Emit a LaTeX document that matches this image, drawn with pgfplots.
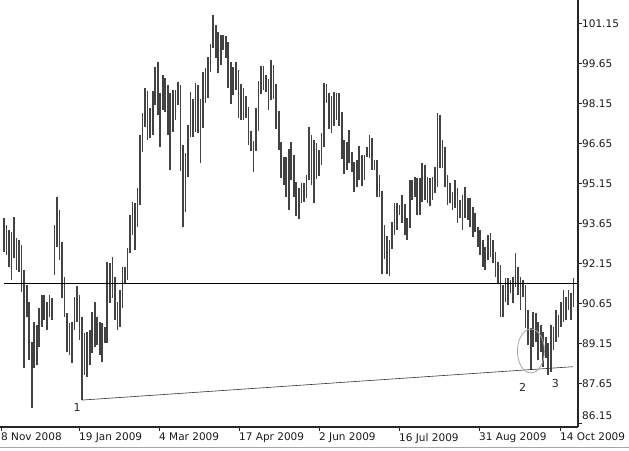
\documentclass[border=0pt]{standalone}
\usepackage{fontspec}
\setmainfont{DejaVu Sans}
\usepackage{pgfplots}
\usepackage{pgfplotstable}
\pgfplotsset{compat=1.18}

\pgfplotstableread{
i hi lo
0 93.85 92.57
1 93.59 92.46
2 93.40 92.01
3 93.32 91.52
4 93.89 92.35
5 93.10 91.90
6 93.02 91.82
7 92.84 91.07
8 91.90 88.22
9 91.34 90.14
10 90.70 88.52
11 89.20 86.72
12 89.95 88.22
13 89.84 88.34
14 90.47 89.01
15 90.96 89.76
16 90.96 90.02
17 90.70 89.65
18 90.96 90.14
19 90.85 90.02
20 93.59 91.71
21 94.64 92.76
22 94.15 92.27
23 92.95 90.85
24 91.64 90.14
25 90.29 88.82
26 89.91 88.71
27 89.95 88.41
28 90.89 89.65
29 91.30 89.95
30 90.96 89.27
31 90.14 87.02
32 89.54 87.96
33 89.57 87.89
34 89.65 88.34
35 90.32 88.79
36 90.70 89.01
37 90.14 89.09
38 89.95 88.71
39 89.91 88.45
40 89.76 89.16
41 92.20 89.16
42 92.16 90.66
43 92.39 90.85
44 91.64 90.02
45 90.70 89.65
46 91.15 89.76
47 92.01 90.47
48 92.01 91.41
49 92.72 91.52
50 93.96 92.54
51 94.45 93.21
52 94.41 92.65
53 94.97 93.51
54 96.96 94.34
55 97.79 96.32
56 98.72 97.26
57 98.61 96.77
58 97.97 96.85
59 98.61 96.96
60 99.51 98.09
61 99.70 97.71
62 98.54 96.51
63 99.21 97.90
64 99.10 97.82
65 98.84 96.96
66 98.54 95.65
67 98.65 97.07
68 98.65 97.52
69 98.95 98.09
70 98.84 95.61
71 96.59 93.51
72 96.29 94.07
73 97.34 95.39
74 98.57 96.89
75 98.31 96.89
76 98.91 97.07
77 98.84 97.04
78 98.31 95.91
79 99.32 97.22
80 99.47 98.16
81 99.89 98.35
82 100.37 99.32
83 101.46 100.22
84 101.09 99.85
85 100.82 99.29
86 100.71 99.59
87 100.71 100.15
88 100.67 99.85
89 100.45 98.72
90 99.70 98.12
91 99.51 98.46
92 99.70 98.65
93 99.40 97.60
94 98.87 97.52
95 98.72 97.52
96 98.42 97.60
97 98.01 96.59
98 97.11 96.36
99 96.73 95.57
100 97.97 96.36
101 98.98 97.11
102 99.55 98.50
103 99.55 98.65
104 99.21 98.57
105 99.06 97.90
106 99.77 98.27
107 99.59 98.31
108 98.87 97.19
109 97.86 96.40
110 96.70 95.35
111 96.14 95.09
112 96.14 94.64
113 96.44 94.15
114 96.70 95.27
115 96.21 94.64
116 95.20 93.92
117 94.97 93.81
118 95.16 94.41
119 95.16 94.45
120 95.46 94.60
121 97.26 95.27
122 96.96 95.09
123 96.77 94.41
124 96.66 95.31
125 96.40 95.42
126 97.04 95.83
127 98.91 96.51
128 98.87 98.16
129 98.54 97.19
130 98.42 97.04
131 98.57 97.30
132 98.54 97.52
133 98.54 97.30
134 97.82 96.06
135 96.77 95.50
136 96.70 95.65
137 97.15 95.91
138 96.32 95.57
139 95.95 94.82
140 96.02 95.01
141 96.55 95.27
142 96.21 95.05
143 96.21 95.27
144 96.51 96.14
145 96.96 96.10
146 96.85 95.65
147 96.02 95.65
148 96.02 94.64
149 95.46 94.64
150 94.86 91.75
151 93.59 92.31
152 93.17 91.75
153 93.02 91.67
154 93.70 92.69
155 94.41 93.21
156 94.41 93.40
157 94.34 93.96
158 94.71 93.66
159 94.37 93.21
160 93.85 93.02
161 95.27 93.47
162 95.27 94.52
163 95.39 94.64
164 95.35 93.96
165 95.35 93.96
166 95.91 94.45
167 95.83 94.52
168 95.39 94.41
169 95.35 94.30
170 95.39 94.52
171 95.76 94.79
172 97.79 95.01
173 97.71 95.72
174 96.77 95.72
175 96.51 95.01
176 95.46 94.34
177 95.16 94.41
178 94.82 94.15
179 95.27 94.22
180 94.97 93.66
181 94.52 93.85
182 94.71 93.40
183 95.01 93.85
184 94.60 93.77
185 94.60 93.51
186 94.26 93.13
187 94.03 93.32
188 93.51 92.76
189 93.40 92.46
190 93.02 92.01
191 92.76 91.90
192 93.21 92.27
193 93.28 92.39
194 93.02 92.16
195 92.57 91.64
196 92.20 91.41
197 92.08 90.14
198 91.34 90.14
199 91.60 90.70
200 91.60 90.58
201 91.52 91.03
202 91.64 90.66
203 92.54 91.26
204 92.01 90.96
205 91.64 90.39
206 91.52 90.89
207 91.34 89.72
208 90.39 89.09
209 89.72 88.14
210 90.32 89.01
211 90.29 89.20
212 89.95 88.52
213 89.84 88.82
214 89.57 88.26
215 89.38 88.59
216 89.16 87.96
217 89.84 88.07
218 89.76 88.89
219 90.39 89.20
220 90.21 89.38
221 90.70 89.76
222 91.15 89.95
223 90.89 90.02
224 91.15 90.39
225 91.03 90.02
226 91.60 90.50
}\bars

\begin{document}
\begin{tikzpicture}
\path[use as bounding box] (0pt,-23pt) rectangle (629pt,427pt);
\begin{axis}[
  at={(0pt,0pt)}, anchor=south west,
  scale only axis, width=578pt, height=427pt,
  xmin=-1.587, xmax=227.78,
  ymin=86.01, ymax=102.02,
  axis x line*=bottom, axis y line*=right,
  axis line style={-, line width=1.2pt, black!85},
  tick align=outside, major tick length=4pt,
  tick style={black!85, line width=0.8pt},
  xtick={-1.19,29.76,61.51,93.25,125.0,156.75,188.49,220.63},
  xticklabels={8 Nov 2008,19 Jan 2009,4 Mar 2009,17 Apr 2009,2 Jun 2009,16 Jul 2009,31 Aug 2009,14 Oct 2009},
  ytick={87.65,89.15,90.65,92.15,93.65,95.15,96.65,98.15,99.65,101.15},
  yticklabels={87.65,89.15,90.65,92.15,93.65,95.15,96.65,98.15,99.65,101.15},
  extra y ticks={86.15}, extra y tick labels={86.15},
  extra y tick style={yticklabel style={yshift=8pt}},
  ticklabel style={font=\fontsize{10.5}{12}\selectfont, text=black!90},
  xticklabel style={anchor=north west, inner sep=0pt, yshift=-2pt},
  yticklabel style={anchor=west, inner sep=0pt},
]
\addplot[draw=none, mark=none, forget plot, error bars/.cd, y dir=plus, y explicit,
  error mark=none, error bar style={draw=black!74, line width=1.7pt, solid}]
  table[x=i, y=lo, y error expr=\thisrow{hi}-\thisrow{lo}] {\bars};
\addplot[black, line width=0.8pt] coordinates {(0,91.38) (227.78,91.38)};
\addplot[black!80, line width=0.6pt] coordinates {(31,87.02) (225.7,88.27)};
\draw[gray!70, line width=0.8pt] (axis cs:209.1,88.86) ellipse [x radius=13.5pt, y radius=22pt];
\node[font=\fontsize{11}{13}\selectfont, text=black!85] at (axis cs:28.97,86.76) {1};
\node[font=\fontsize{11}{13}\selectfont, text=black!85] at (axis cs:205.8,87.49) {2};
\node[font=\fontsize{11}{13}\selectfont, text=black!85] at (axis cs:218.8,87.65) {3};
\end{axis}
\draw[gray!70, line width=0.8pt] (0pt,-20pt) -- (629pt,-20pt);
\end{tikzpicture}
\end{document}
